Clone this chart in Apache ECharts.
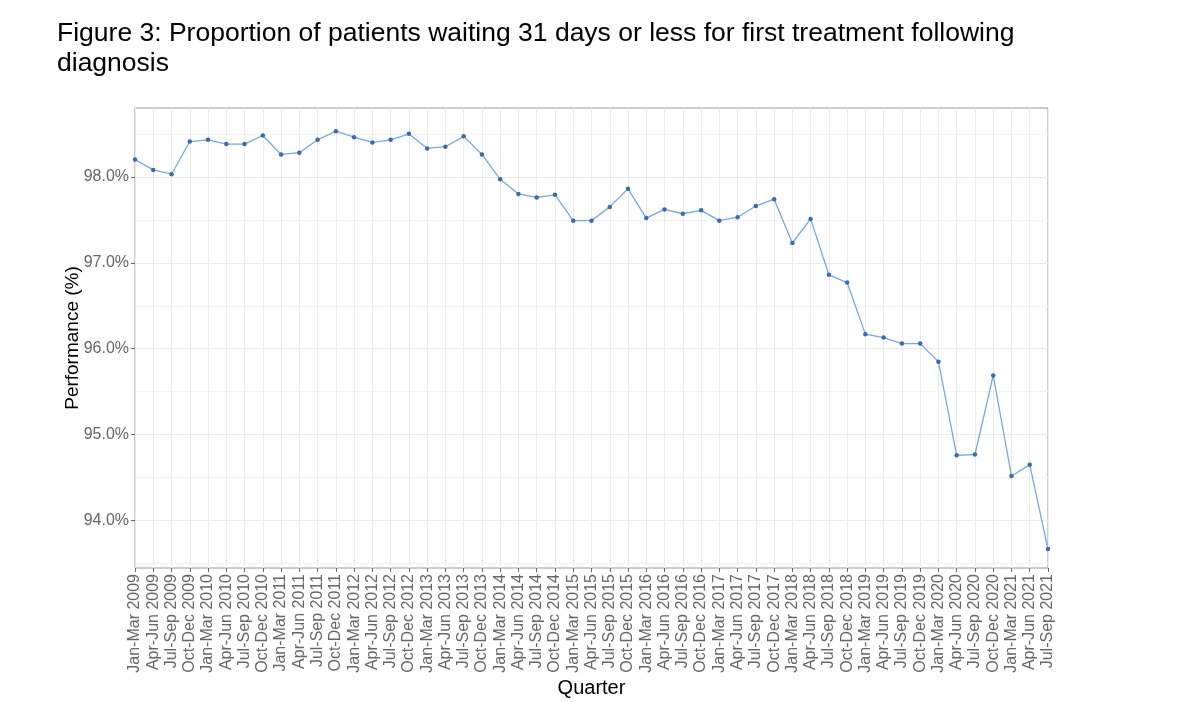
<!DOCTYPE html>
<html>
<head>
<meta charset="utf-8">
<script src="https://cdn.jsdelivr.net/npm/echarts@6/dist/echarts.min.js"></script>
<style>
html,body{margin:0;padding:0;background:#fff;}
#chart{width:1192px;height:702px;}
</style>
</head>
<body>
<div id="chart"></div>
<script>
const quarters = [
"Jan-Mar 2009","Apr-Jun 2009","Jul-Sep 2009","Oct-Dec 2009",
"Jan-Mar 2010","Apr-Jun 2010","Jul-Sep 2010","Oct-Dec 2010",
"Jan-Mar 2011","Apr-Jun 2011","Jul-Sep 2011","Oct-Dec 2011",
"Jan-Mar 2012","Apr-Jun 2012","Jul-Sep 2012","Oct-Dec 2012",
"Jan-Mar 2013","Apr-Jun 2013","Jul-Sep 2013","Oct-Dec 2013",
"Jan-Mar 2014","Apr-Jun 2014","Jul-Sep 2014","Oct-Dec 2014",
"Jan-Mar 2015","Apr-Jun 2015","Jul-Sep 2015","Oct-Dec 2015",
"Jan-Mar 2016","Apr-Jun 2016","Jul-Sep 2016","Oct-Dec 2016",
"Jan-Mar 2017","Apr-Jun 2017","Jul-Sep 2017","Oct-Dec 2017",
"Jan-Mar 2018","Apr-Jun 2018","Jul-Sep 2018","Oct-Dec 2018",
"Jan-Mar 2019","Apr-Jun 2019","Jul-Sep 2019","Oct-Dec 2019",
"Jan-Mar 2020","Apr-Jun 2020","Jul-Sep 2020","Oct-Dec 2020",
"Jan-Mar 2021","Apr-Jun 2021","Jul-Sep 2021"
];
const performance = [
98.20,98.08,98.03,98.41,
98.43,98.38,98.38,98.48,
98.26,98.28,98.43,98.53,
98.46,98.40,98.43,98.50,
98.33,98.35,98.47,98.26,
97.97,97.80,97.76,97.79,
97.49,97.49,97.65,97.86,
97.52,97.62,97.57,97.61,
97.49,97.53,97.66,97.74,
97.23,97.51,96.86,96.77,
96.17,96.13,96.06,96.06,
95.85,94.76,94.77,95.69,
94.52,94.65,93.67
];
const yMajorTicks = [94,95,96,97,98];
const yMinorTicks = [93.5,94.5,95.5,96.5,97.5,98.5];
const yMin = 93.45, yMax = 98.80;

const chart = echarts.init(document.getElementById('chart'));
chart.setOption({
  backgroundColor:'#ffffff',
  animation:false,
  title:{
    text:'Figure 3: Proportion of patients waiting 31 days or less for first treatment following\ndiagnosis',
    left:52, top:14,
    textStyle:{fontFamily:'Liberation Sans, Arial, sans-serif',fontSize:26.5,fontWeight:'normal',color:'#000',lineHeight:30}
  },
  grid:{left:135,right:144,top:108,bottom:134,outerBoundsMode:'none',containLabel:false,show:true,borderColor:'#9a9a9a',borderWidth:1,backgroundColor:'#fff'},
  xAxis:{
    type:'category',
    data:quarters,
    boundaryGap:false,
    name:'Quarter',
    nameLocation:'middle',
    nameGap:110,
    nameMoveOverlap:false,
    nameTextStyle:{fontFamily:'Liberation Sans, Arial, sans-serif',fontSize:20,color:'#000'},
    axisLine:{show:false},
    axisTick:{show:true,interval:0,length:4,lineStyle:{color:'#666'}},
    axisLabel:{interval:0,rotate:90,margin:6,fontFamily:'Liberation Sans, Arial, sans-serif',fontSize:16,color:'#666'},
    splitLine:{show:true,interval:0,lineStyle:{color:'#ebebeb',width:1}}
  },
  yAxis:[{
    type:'value',
    min:yMin,max:yMax,
    name:'Performance (%)',
    nameLocation:'middle',
    nameGap:53,
    nameMoveOverlap:false,
    nameRotate:90,
    nameTextStyle:{fontFamily:'Liberation Sans, Arial, sans-serif',fontSize:19,color:'#000'},
    axisLine:{show:false},
    axisTick:{show:true,length:4,customValues:yMajorTicks,lineStyle:{color:'#666'}},
    axisLabel:{customValues:yMajorTicks,margin:6,fontFamily:'Liberation Sans, Arial, sans-serif',fontSize:16,color:'#666',
      formatter:v=>v.toFixed(1)+'%'},
    splitLine:{show:true,lineStyle:{color:'#ebebeb',width:1}}
  },{
    type:'value',
    min:yMin,max:yMax,
    position:'left',
    axisLine:{show:false},
    axisTick:{show:false,customValues:yMinorTicks},
    axisLabel:{show:false,customValues:yMinorTicks},
    splitLine:{show:true,lineStyle:{color:'#f4f4f4',width:1}}
  }],
  series:[{
    type:'line',
    data:performance,
    yAxisIndex:0,
    symbol:'circle',
    symbolSize:4.5,
    showSymbol:true,
    lineStyle:{color:'#78a8dc',width:1.3},
    itemStyle:{color:'#3b6ba8'},
    z:5
  }]
});
</script>
</body>
</html>
